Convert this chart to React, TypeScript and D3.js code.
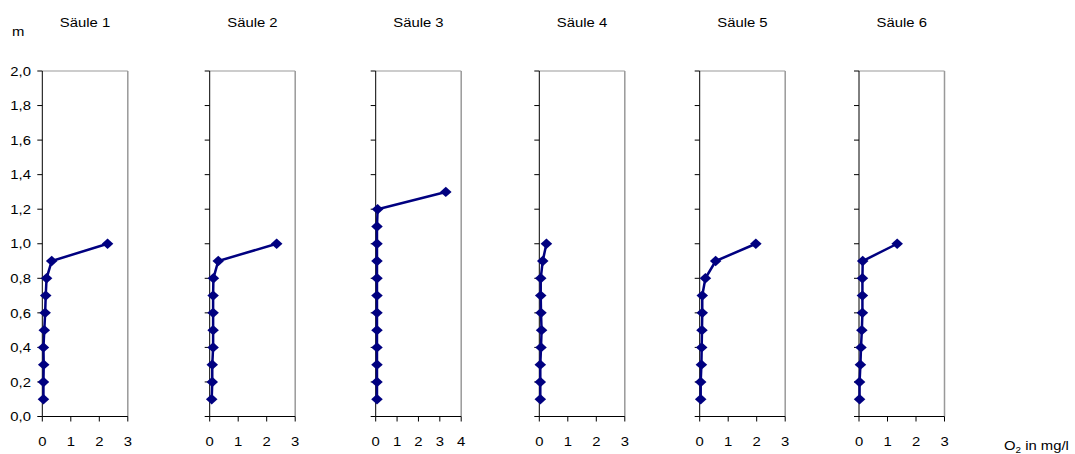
import React from "react";
import * as d3 from "d3";

const panelTitles = ["Säule 1", "Säule 2", "Säule 3", "Säule 4", "Säule 5", "Säule 6"];
const panelXMax = [3, 3, 4, 3, 3, 3];
const depths = [0.1, 0.2, 0.3, 0.4, 0.5, 0.6, 0.7, 0.8, 0.9, 1.0];
const depths3 = [0.1, 0.2, 0.3, 0.4, 0.5, 0.6, 0.7, 0.8, 0.9, 1.0, 1.1, 1.2, 1.3];
const o2Saule1 = [0.04, 0.04, 0.05, 0.04, 0.07, 0.1, 0.12, 0.15, 0.33, 2.29];
const o2Saule2 = [0.07, 0.09, 0.09, 0.12, 0.12, 0.12, 0.12, 0.13, 0.3, 2.35];
const o2Saule3 = [0.06, 0.06, 0.06, 0.06, 0.06, 0.06, 0.06, 0.06, 0.06, 0.06, 0.06, 0.09, 3.28];
const o2Saule4 = [0.035, 0.035, 0.035, 0.06, 0.08, 0.06, 0.05, 0.05, 0.12, 0.25];
const o2Saule5 = [0.035, 0.035, 0.06, 0.07, 0.08, 0.09, 0.09, 0.2, 0.56, 1.97];
const o2Saule6 = [0.02, 0.02, 0.05, 0.07, 0.1, 0.12, 0.12, 0.12, 0.13, 1.34];
const yTicks = [0, 0.2, 0.4, 0.6, 0.8, 1.0, 1.2, 1.4, 1.6, 1.8, 2.0];

const series = [
  { d: depths, v: o2Saule1 },
  { d: depths, v: o2Saule2 },
  { d: depths3, v: o2Saule3 },
  { d: depths, v: o2Saule4 },
  { d: depths, v: o2Saule5 },
  { d: depths, v: o2Saule6 },
];

// layout
const panelLeft = [42.3, 209.7, 375.7, 539.3, 699.7, 859];
const plotW = 85.5;
const top = 71;
const bottom = 416.5;
const font = "Arial, 'Liberation Sans', sans-serif";
const navy = "#000080";
const fs = 13.5;
const sx = 1.1;

function T(props: { x: number; y: number; anchor?: string; dy?: string; children: React.ReactNode }) {
  return (
    <text
      transform={`translate(${props.x},${props.y}) scale(${sx},1)`}
      textAnchor={props.anchor || "start"}
      dy={props.dy}
      fontFamily={font}
      fontSize={fs}
      fill="#000"
    >
      {props.children}
    </text>
  );
}

export default function App() {
  const y = d3.scaleLinear().domain([0, 2]).range([bottom, top]);
  const fmt = (v: number) => d3.format(".1f")(v).replace(".", ",");
  const diamondPath = d3.symbol().type(d3.symbolDiamond2).size(85)() || "";

  return (
    <svg width={1075} height={454} style={{ position: "absolute", left: 0, top: 0, background: "#fff" }}>
      <rect x={0} y={0} width={1075} height={454} fill="#fff" />
      <T x={12} y={36}>m</T>
      <text transform={`translate(1004,450) scale(${sx},1)`} fontFamily={font} fontSize={fs} fill="#000">
        O<tspan fontSize={9} dy={3}>2</tspan><tspan dy={-3}> in mg/l</tspan>
      </text>
      {series.map((s, i) => {
        const x0 = panelLeft[i];
        const x = d3.scaleLinear().domain([0, panelXMax[i]]).range([x0, x0 + plotW]);
        const pts = s.d.map((dd, j) => [x(s.v[j]), y(dd)] as [number, number]);
        const line = d3.line()(pts) || "";
        const xt = d3.range(0, panelXMax[i] + 1);
        return (
          <g key={i}>
            <T x={x0 + plotW / 2} y={27} anchor="middle">{panelTitles[i]}</T>
            <line x1={x0} x2={x0 + plotW} y1={top} y2={top} stroke="#999" strokeWidth={1.2} />
            <line x1={x0 + plotW} x2={x0 + plotW} y1={top} y2={bottom} stroke="#999" strokeWidth={1.5} />
            <line x1={x0} x2={x0} y1={top} y2={bottom} stroke="#000" strokeWidth={1} />
            <line x1={x0} x2={x0 + plotW} y1={bottom} y2={bottom} stroke="#000" strokeWidth={1} />
            {yTicks.map((t) => (
              <g key={t}>
                <line x1={x0 - 5} x2={x0} y1={y(t)} y2={y(t)} stroke="#000" strokeWidth={1} />
                {i === 0 && (
                  <T x={31} y={y(t)} dy="0.35em" anchor="end">{fmt(t)}</T>
                )}
              </g>
            ))}
            {xt.map((t) => (
              <g key={t}>
                <line x1={x(t)} x2={x(t)} y1={bottom} y2={bottom + 5} stroke="#000" strokeWidth={1} />
                <T x={x(t)} y={446} anchor="middle">{t}</T>
              </g>
            ))}
            <path d={line} fill="none" stroke={navy} strokeWidth={2.5} />
            {pts.map((p, j) => (
              <path key={j} d={diamondPath} transform={`translate(${p[0]},${p[1]}) scale(1,0.9)`} fill={navy} />
            ))}
          </g>
        );
      })}
    </svg>
  );
}
